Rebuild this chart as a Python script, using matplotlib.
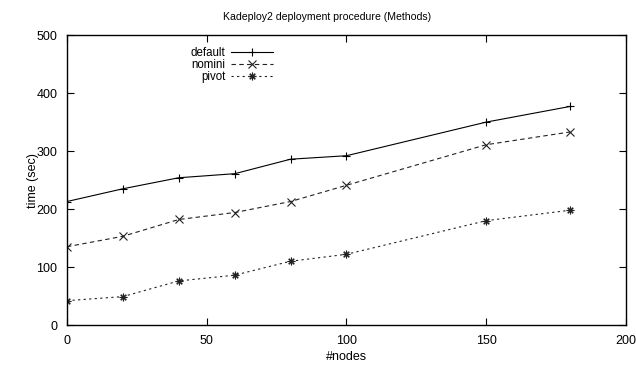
import matplotlib
matplotlib.use('Agg')
import matplotlib.pyplot as plt

plt.rcParams['font.family'] = ['Liberation Sans', 'DejaVu Sans']
plt.rcParams['font.size'] = 9

nodes = [0, 20, 40, 60, 80, 100, 150, 180]
t_default = [213, 235, 254, 261, 286, 292, 350, 377]
t_nomini = [135, 153, 182, 194, 213, 241, 311, 333]
t_pivot = [42, 49, 76, 86, 110, 122, 180, 198]

xticks = [0, 50, 100, 150, 200]
yticks = [0, 100, 200, 300, 400, 500]

fig = plt.figure(figsize=(6.36, 3.66), dpi=100)
ax = fig.add_axes([0.1053, 0.112, 0.879, 0.792])

ax.plot(nodes, t_default, color='black', lw=0.8, marker='+', ms=5.5,
        mew=0.8, label='default')
ax.plot(nodes, t_nomini, color='#222222', lw=0.8, ls=(0, (4, 3)),
        marker='x', ms=5.5, mew=0.8, label='nomini')
ax.plot(nodes, t_pivot, color='#222222', lw=0.8, ls=(0, (2, 3)),
        marker=(8, 2, 0), ms=5.5, mew=0.8, label='pivot')

ax.set_xlim(0, 200)
ax.set_ylim(0, 500)
ax.set_xticks(xticks)
ax.set_yticks(yticks)
ax.tick_params(direction='in', length=5, width=0.8, top=True, right=True,
               pad=7, labelsize=9)
for s in ax.spines.values():
    s.set_linewidth(1.0)

ax.set_title('Kadeploy2 deployment procedure (Methods)', fontsize=7.6,
             x=0.465, pad=11)
ax.set_xlabel('#nodes', fontsize=9)
ax.set_ylabel('time (sec)', fontsize=9)
ax.xaxis.set_label_coords(0.5, -0.09)
ax.yaxis.set_label_coords(-0.05, 0.5)

leg = ax.legend(loc='upper right', bbox_to_anchor=(0.3685, 0.958),
                frameon=False, markerfirst=False, handlelength=3.6,
                handletextpad=0.5, labelspacing=0.0, borderaxespad=0,
                borderpad=0, fontsize=8.3)
for t in leg.get_texts():
    t.set_ha('right')
leg._legend_box.align = 'right'

fig.savefig('out.png', dpi=100)
